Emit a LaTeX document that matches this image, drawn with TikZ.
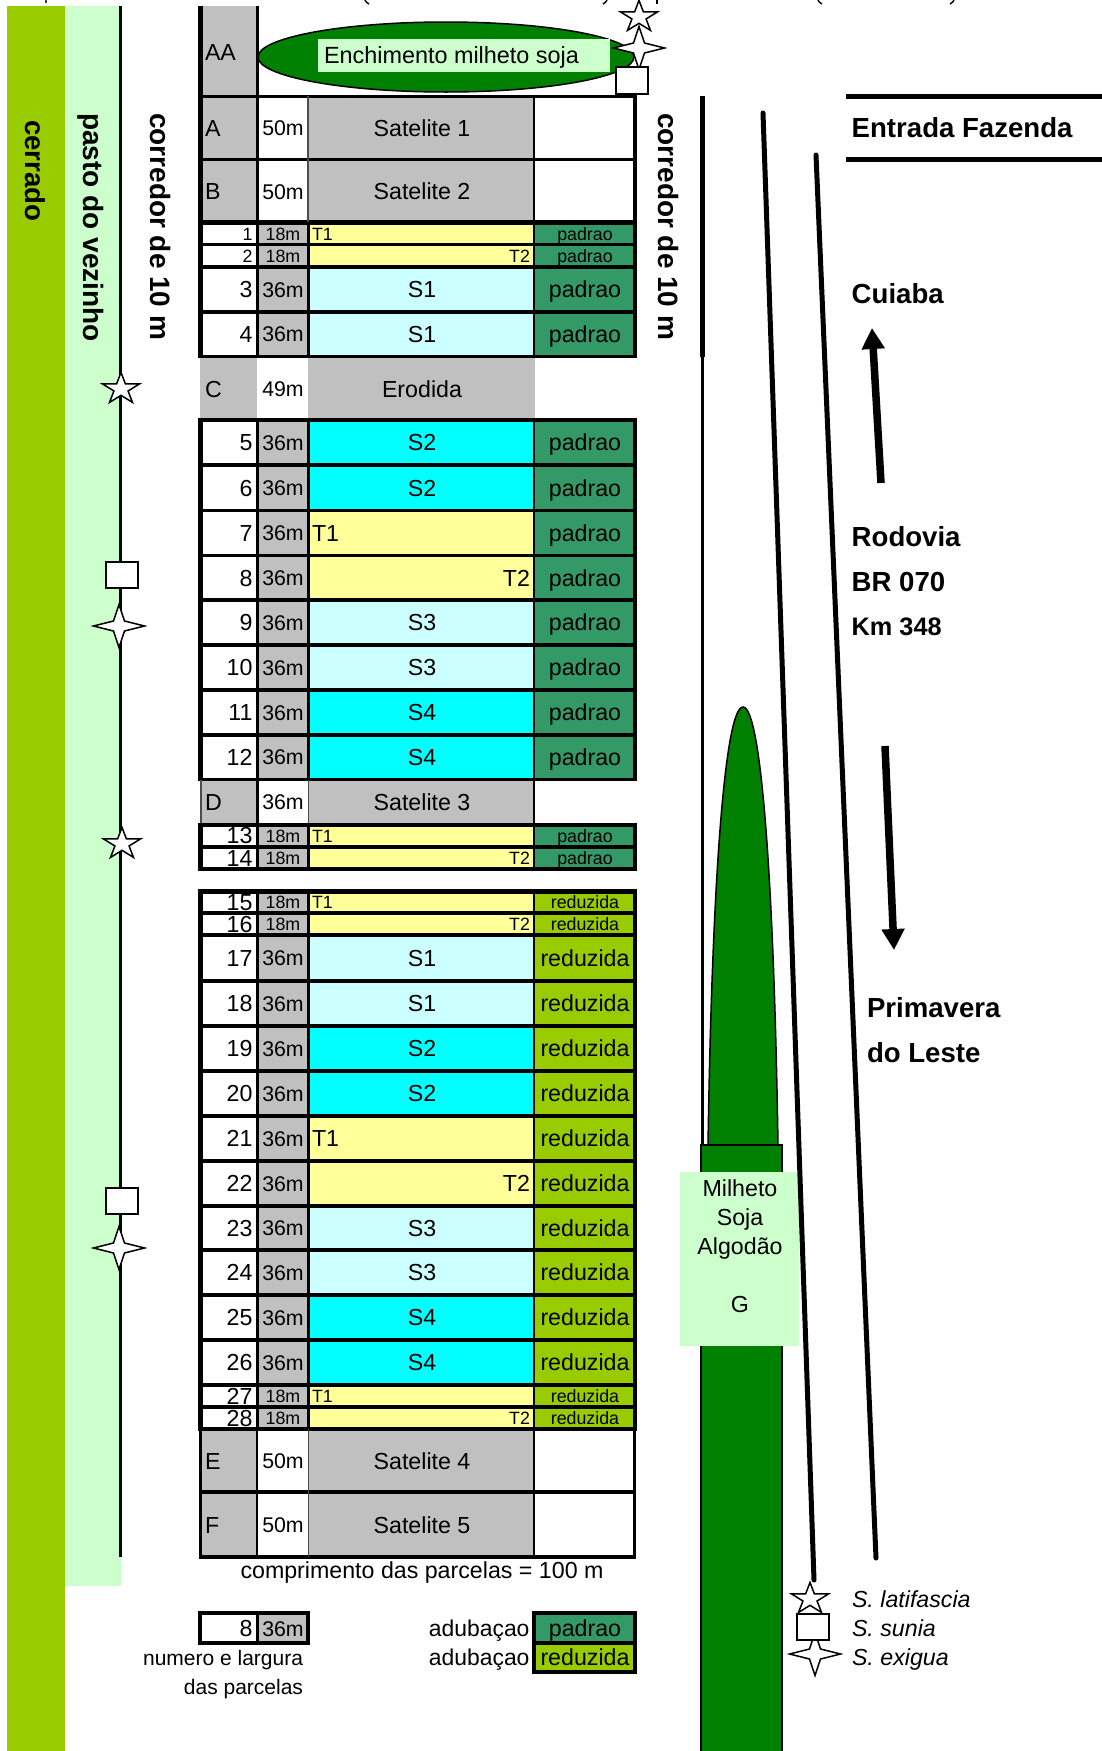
\documentclass[tikz,border=0pt]{standalone}
\usepackage{fontspec}
\setmainfont{Liberation Sans}
\usetikzlibrary{arrows.meta}
\definecolor{cinza}{HTML}{C0C0C0}
\definecolor{luz}{HTML}{CCFFFF}
\definecolor{ciano}{HTML}{00FFFF}
\definecolor{amarelo}{HTML}{FFFF99}
\definecolor{padrao}{HTML}{339966}
\definecolor{reduzida}{HTML}{99CC00}
\definecolor{pasto}{HTML}{CCFFCC}
\definecolor{verde}{HTML}{008000}
\newcommand{\fz}[1]{\fontsize{#1}{#1}\selectfont}
\tikzset{
 txt/.style={inner sep=0pt,outer sep=0pt,text=black},
 posl/.style={anchor=base west,at={(312,\ty)}},
 posc/.style={anchor=base,at={(422,\ty)}},
 posr/.style={anchor=base east,at={(530,\ty)}},
 symb/.style={draw=black,fill=white,line width=1.5pt},
 heavy/.style={line width=4.5pt,draw=black},
 sepline/.style={line width=3.3pt,draw=black},
 colline/.style={line width=2.5pt,draw=black},
 thinline/.style={line width=1.5pt,draw=black!70},
 road/.style={line width=5pt,draw=black,line cap=round},
 bigarrow/.style={line width=7.5pt,draw=black,-{Triangle[length=21pt,width=22pt]}},
 boldtxt/.style={txt,font=\fz{27.6}\bfseries,anchor=base west},
 vertxt/.style={txt,font=\fz{28}\bfseries,rotate=-90,anchor=base west},
 plain/.style={txt,font=\fz{23.2}},
 sfive/.pic={\path[symb] (0,-16.6)--(4.38,-5.13)--(18.5,-5.1)--(7.08,1.96)--(11.5,13.4)--(0,6.34)--(-11.5,13.4)--(-7.08,1.96)--(-18.5,-5.1)--(-4.38,-5.13)--cycle;},
 sfour/.pic={\path[symb] (0,-21.5)--(5.5,-5)--(25.5,0)--(5.5,5)--(0,21.5)--(-5.5,5)--(-25.5,0)--(-5.5,-5)--cycle;},
}
\newcommand{\wt}[1]{\raisebox{.8pt}{\fz{21.3}#1}}
% parcel row: number, top, bottom, number size, text size, width, fill, position style, label
\newcommand{\prow}[9]{%
 \fill[cinza] (257,#2) rectangle (308,#3);
 \fill[#7] (308,#2) rectangle (534,#3);
 \fill[\adub] (534,#2) rectangle (635,#3);
 \pgfmathsetmacro{\ym}{(#2+#3)/2}
 \pgfmathsetmacro{\ty}{\ym+0.365*#5}
 \pgfmathsetmacro{\tn}{\ym+0.365*#4}
 \node (n#1) [txt,font=\fz{#4},anchor=base east] at (252.5,\tn) {#1};
 \node (w#1) [txt,font=\fz{#5},anchor=base] at (283,\ty) {#6};
 \node (c#1) [txt,font=\fz{#5},#8] {#9};
 \node (a#1) [txt,font=\fz{#5},anchor=base] at (585,\ty) {\adub};
}
\newcommand{\bigrow}[6]{\prow{#1}{#2}{#3}{23.2}{23.2}{\wt{36m}}{#4}{#5}{#6}}
% satellite row: letter, top, bottom, width, label
\newcommand{\srow}[5]{%
 \fill[cinza] (200,#2) rectangle (257,#3);
 \fill[cinza] (308,#2) rectangle (535,#3);
 \pgfmathsetmacro{\ty}{(#2+#3)/2+8.9}
 \node (l#1) [plain,anchor=base west] at (205,\ty) {#1};
 \node (w#1) [plain,anchor=base] at (283,\ty) {\wt{#4}};
 \node (c#1) [plain,posc] {#5};
}
\begin{document}
\begin{tikzpicture}[x=1pt,y=-1pt]
\useasboundingbox (0,0) rectangle (1102,1751);
\clip (0,0) rectangle (1102,1751);
% sliver of the cut-off heading
\draw[line width=1.4pt,black!75] (46,0)--(46,3);
\draw[line width=1.4pt] (365,0) .. controls (366,2) .. (369,4);
\draw[line width=1.4pt] (607,0) .. controls (606,2) .. (603,4);
\draw[line width=1.8pt] (657,0)--(657,4);
\draw[line width=1.4pt] (818,0) .. controls (819,2) .. (822,4);
\draw[line width=1.4pt] (954,0) .. controls (953,2) .. (950,4);
% strips
\fill[reduzida] (7,6) rectangle (65,1751);
\fill[pasto] (65,6) rectangle (121,1586);
\coordinate (vt) at (120,6);
\coordinate (vb) at (120,1557);
\draw[line width=3pt] (vt) -- (vb);
\node[vertxt,font=\fz{27.6}\bfseries] (cerr) at (25,120) {cerrado};
\node[vertxt] (past) at (83,113) {pasto do vezinho};
\node[vertxt] (corl) at (150,113) {corredor de 10 m};
\node[vertxt] (corr) at (658,113) {corredor de 10 m};
% symbols along the fence
\pic at (121,389) {sfive};
\draw[symb] (106,562) rectangle (138,588);
\pic at (119,626) {sfour};
\pic at (122,844) {sfive};
\draw[symb] (106,1188) rectangle (138,1214);
\pic at (119,1248) {sfour};
% field AA
\fill[cinza] (201,6) rectangle (257,96);
\draw[black,fill=verde,line width=1.5pt] (446,57) ellipse [x radius=188,y radius=35];
\fill[pasto] (318,39) rectangle (610,72);
\node[plain,font=\fz{23.4},anchor=base west] (ench) at (324,63.5) {Enchimento milheto soja};
\node[plain,anchor=base west] (lAA) at (205,60) {AA};
\draw[heavy] (200.4,6) -- (200.4,96);
\draw[sepline] (257.2,6) -- (257.2,96);
\pic at (639,17) {sfive};
\pic at (639,48) {sfour};
\draw[symb] (616,67) rectangle (648,94);
% rows
\srow{A}{96}{159.5}{50m}{Satelite 1}
\srow{B}{159.5}{222.5}{50m}{Satelite 2}
\def\adub{padrao}
\prow{1}{222.5}{244.5}{17.8}{17.8}{18m}{amarelo}{posl}{T1}
\prow{2}{244.5}{267}{17.8}{17.8}{18m}{amarelo}{posr}{T2}
\bigrow{3}{267}{312}{luz}{posc}{S1}
\bigrow{4}{312}{356.5}{luz}{posc}{S1}
\srow{C}{356.5}{420}{49m}{Erodida}
\bigrow{5}{420}{465}{ciano}{posc}{S2}
\bigrow{6}{465}{510.5}{ciano}{posc}{S2}
\bigrow{7}{510.5}{555.5}{amarelo}{posl}{T1}
\bigrow{8}{555.5}{600}{amarelo}{posr}{T2}
\bigrow{9}{600}{645}{luz}{posc}{S3}
\bigrow{10}{645}{690}{luz}{posc}{S3}
\bigrow{11}{690}{735}{ciano}{posc}{S4}
\bigrow{12}{735}{779.5}{ciano}{posc}{S4}
\srow{D}{779.5}{824}{36m}{Satelite 3}
\prow{13}{824}{847}{23.2}{17.8}{18m}{amarelo}{posl}{T1}
\prow{14}{847}{869}{23.2}{17.8}{18m}{amarelo}{posr}{T2}
\def\adub{reduzida}
\prow{15}{891}{913}{23.2}{17.8}{18m}{amarelo}{posl}{T1}
\prow{16}{913}{935}{23.2}{17.8}{18m}{amarelo}{posr}{T2}
\bigrow{17}{935}{981}{luz}{posc}{S1}
\bigrow{18}{981}{1026}{luz}{posc}{S1}
\bigrow{19}{1026}{1071}{ciano}{posc}{S2}
\bigrow{20}{1071}{1116}{ciano}{posc}{S2}
\bigrow{21}{1116}{1161}{amarelo}{posl}{T1}
\bigrow{22}{1161}{1206}{amarelo}{posr}{T2}
\bigrow{23}{1206}{1250}{luz}{posc}{S3}
\bigrow{24}{1250}{1295}{luz}{posc}{S3}
\bigrow{25}{1295}{1340}{ciano}{posc}{S4}
\bigrow{26}{1340}{1385}{ciano}{posc}{S4}
\prow{27}{1385}{1407}{23.2}{17.8}{18m}{amarelo}{posl}{T1}
\prow{28}{1407}{1429}{23.2}{17.8}{18m}{amarelo}{posr}{T2}
\srow{E}{1429}{1492}{50m}{Satelite 4}
\srow{F}{1492}{1557}{50m}{Satelite 5}
% grid: block A--4
\draw[sepline] (198,96.3) -- (637,96.3);
\foreach \y in {159.5,244.5,267,312} \draw[sepline] (198,\y) -- (637,\y);
\draw[line width=5pt] (198,222.5) -- (637,222.5);
\draw[sepline] (198,356.5) -- (637,356.5);
\draw[sepline] (257.2,96) -- (257.2,356.5);
\draw[colline] (308.3,222) -- (308.3,356.5);
\draw[line width=2pt,black!70] (308.3,96) -- (308.3,222);
\draw[colline] (534,96) -- (534,356.5);
\draw[heavy] (200.4,94) -- (200.4,358);
\draw[heavy] (635,94) -- (635,358);
% block 5--12
\foreach \y in {420,465,510.5,555.5,600,645,690,735,779.5} \draw[sepline] (198,\y) -- (637,\y);
\draw[sepline] (257.2,420) -- (257.2,779.5);
\draw[colline] (308.3,420) -- (308.3,779.5);
\draw[colline] (534,420) -- (534,779.5);
\draw[heavy] (200.4,418.5) -- (200.4,781);
\draw[heavy] (635,418.5) -- (635,781);
% block D
\draw[thinline] (201,779.5) -- (201,824);
\draw[sepline] (257.2,779.5) -- (257.2,824);
\draw[thinline] (308.3,779.5) -- (308.3,824);
\draw[colline] (534,779.5) -- (534,824);
% block 13--14
\draw[line width=4pt] (198,824.5) -- (637,824.5);
\draw[sepline] (198,847) -- (637,847);
\draw[line width=4.5pt] (198,869) -- (637,869);
\draw[sepline] (257.2,824) -- (257.2,869);
\draw[colline] (308.3,824) -- (308.3,869);
\draw[colline] (534,824) -- (534,869);
\draw[heavy] (200.4,822.5) -- (200.4,871);
\draw[heavy] (635,822.5) -- (635,871);
% block 15--28
\draw[line width=4.5pt] (198,891.5) -- (637,891.5);
\foreach \y in {913,935,981,1026,1071,1116,1161,1206,1250,1295,1340,1385,1407} \draw[sepline] (198,\y) -- (637,\y);
\draw[line width=4.5pt] (198,1429) -- (637,1429);
\draw[sepline] (257.2,891) -- (257.2,1429);
\draw[colline] (308.3,891) -- (308.3,1429);
\draw[colline] (534,891) -- (534,1429);
\draw[heavy] (200.4,889.5) -- (200.4,1431);
\draw[heavy] (635,889.5) -- (635,1431);
% block E--F
\draw[sepline] (199.5,1492) -- (636,1492);
\draw[line width=4.5pt] (199.5,1557) -- (636,1557);
\draw[colline] (200.5,1429) -- (200.5,1559);
\draw[colline] (257.2,1429) -- (257.2,1557);
\draw[thinline] (308.3,1429) -- (308.3,1557);
\draw[colline] (534,1429) -- (534,1557);
\draw[colline] (634.5,1429) -- (634.5,1559);
% notes under the table
\node[plain,anchor=base] (comp) at (422,1578) {comprimento das parcelas = 100 m};
\fill[cinza] (257,1613) rectangle (308,1643);
\node[plain,anchor=base east] (lg8) at (252.5,1636.5) {8};
\node[plain,font=\fz{21.3},anchor=base] (lg36) at (283,1636) {36m};
\draw[sepline] (257.2,1613) -- (257.2,1643);
\draw[line width=3.5pt] (200,1613) rectangle (308,1643);
\node[txt,font=\fz{21},anchor=base east] (lgn) at (303,1665) {numero e largura};
\node[txt,font=\fz{21},anchor=base east] (lgd) at (303,1694) {das parcelas};
\fill[padrao] (534,1613) rectangle (635,1643);
\fill[reduzida] (534,1643) rectangle (635,1672);
\node[plain,anchor=base] (lgp) at (585,1636.5) {padrao};
\node[plain,anchor=base] (lgr) at (585,1665.5) {reduzida};
\draw[line width=3.5pt] (534,1613) rectangle (635,1672);
\draw[line width=3.5pt] (534,1643) -- (635,1643);
\node[plain,font=\fz{22.9},anchor=base east] (lga) at (529.5,1636.5) {aduba\c{c}ao};
\node[plain,font=\fz{22.9},anchor=base east] (lgb) at (529.5,1665.5) {aduba\c{c}ao};
% right corridor line
\coordinate (rt) at (702.5,96);
\coordinate (rm) at (702.5,357);
\coordinate (rb) at (702.5,1146);
\draw[line width=5pt] (rt) -- (rm);
\draw[line width=3pt] (rm) -- (rb);
% green strip
\path[fill=verde,draw=black,line width=1.5pt] (708,1146) .. controls (712,880) and (725,707) .. (743,707) .. controls (761,707) and (774,880) .. (778,1146);
\path[fill=verde,draw=black,line width=1.5pt] (701,1760) -- (701,1145) -- (782,1145) -- (782,1760);
\fill[pasto] (680,1172) rectangle (799,1346);
\node[plain,anchor=base] (mil) at (740,1196.5) {Milheto};
\node[plain,anchor=base] (soj) at (740,1225.6) {Soja};
\node[plain,anchor=base] (alg) at (740,1254.7) {Algodão};
\node[plain,anchor=base] (gg) at (740,1312) {G};
% road
\coordinate (ra) at (763,113);
\coordinate (rc) at (814,1580);
\coordinate (rd) at (816,155);
\coordinate (re) at (876,1558);
\draw[road] (ra) -- (rc);
\draw[road] (rd) -- (re);
\coordinate (ea) at (846,96.5);
\coordinate (eb) at (1102,96.5);
\coordinate (ec) at (846,159);
\coordinate (ed) at (1102,159);
\draw[line width=5pt] (ea) -- (eb);
\draw[line width=5pt] (ec) -- (ed);
\coordinate (upt) at (881,483);
\coordinate (uph) at (872,328);
\draw[bigarrow] (upt) -- (uph);
\coordinate (dnt) at (885,746);
\coordinate (dnh) at (894,950);
\draw[bigarrow] (dnt) -- (dnh);
\node[boldtxt] (ent) at (851.7,137.7) {Entrada Fazenda};
\node[boldtxt] (cui) at (851.7,303.7) {Cuiaba};
\node[boldtxt] (rod) at (851.7,546.7) {Rodovia};
\node[boldtxt] (brr) at (851.7,591.7) {BR 070};
\node[boldtxt,font=\fz{25.3}\bfseries] (kmm) at (851.7,635.5) {Km 348};
\node[boldtxt] (pri) at (867,1017) {Primavera};
\node[boldtxt] (les) at (867,1062.7) {do Leste};
% species legend
\pic at (810,1599) {sfive};
\pic at (815,1654) {sfour};
\draw[symb] (797,1614) rectangle (829,1640);
\node[plain,font=\fz{23.2}\itshape,anchor=base west] (sl) at (852,1607) {S. latifascia};
\node[plain,font=\fz{23.2}\itshape,anchor=base west] (ss) at (852,1636.5) {S. sunia};
\node[plain,font=\fz{23.2}\itshape,anchor=base west] (se) at (852,1665.5) {S. exigua};
\end{tikzpicture}
\end{document}
